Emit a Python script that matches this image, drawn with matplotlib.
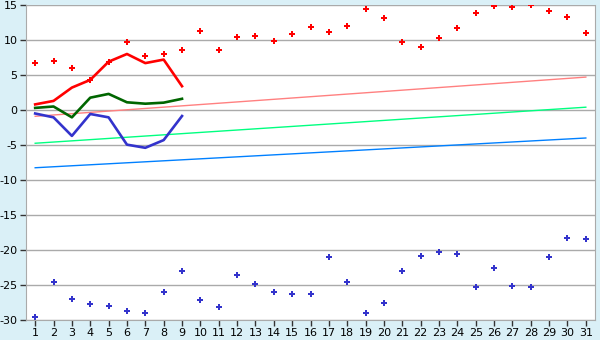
import numpy as np
import matplotlib.pyplot as plt

# days of the month
days = np.arange(1, 32)

# daily max / min points
max_pts = [6.7, 7.0, 6.0, 4.3, 6.9, 9.7, 7.7, 8.0, 8.5, 11.3, 8.5, 10.4, 10.5, 9.8, 10.8, 11.8,
           11.2, 12.0, 14.4, 13.1, 9.7, 9.0, 10.3, 11.7, 13.8, 14.8, 14.7, 15.0, 14.2, 13.3, 11.0]
min_pts = [-29.6, -24.5, -27.0, -27.7, -28.0, -28.7, -29.0, -26.0, -23.0, -27.2, -28.1, -23.6,
           -24.9, -26.0, -26.3, -26.3, -21.0, -24.5, -29.0, -27.6, -23.0, -20.9, -20.3, -20.6,
           -25.3, -22.6, -25.2, -25.3, -21.0, -18.3, -18.5]

# measured lines, first 9 days
line_days = np.arange(1, 10)
max_line = [0.8, 1.3, 3.2, 4.3, 6.9, 8.0, 6.7, 7.2, 3.4]
mean_line = [0.3, 0.5, -1.05, 1.76, 2.3, 1.1, 0.9, 1.05, 1.6]
min_line = [-0.5, -1.05, -3.7, -0.57, -1.05, -4.95, -5.4, -4.3, -0.86]

# long-term normals (start, end)
norm_max = [-0.9, 4.7]
norm_mean = [-4.75, 0.4]
norm_min = [-8.25, -4.0]

fig = plt.figure(figsize=(6, 3.4), dpi=100, facecolor='#daf0f7')
ax = fig.add_axes([26 / 600, 20 / 340, 569 / 600, 315 / 340])
ax.set_facecolor('white')

ends = [days[0], days[-1]]
ax.plot(ends, norm_max, color='#ff8080', lw=1.0)
ax.plot(ends, norm_mean, color='#00ff80', lw=1.0)
ax.plot(ends, norm_min, color='#0080ff', lw=1.0)

ax.plot(line_days, max_line, color='#ff0000', lw=1.9)
ax.plot(line_days, mean_line, color='#006600', lw=1.9)
ax.plot(line_days, min_line, color='#3333cc', lw=1.9)

ax.plot(days, max_pts, 'P', color='#ff0000', ms=5, mew=0, ls='none')
ax.plot(days, min_pts, 'P', color='#3333cc', ms=5, mew=0, ls='none')

ax.set_xlim(0.5, 31.5)
ax.set_ylim(-30, 15)
ax.set_xticks(days)
ax.set_yticks(np.arange(-30, 16, 5))
ax.set_yticklabels([str(v) for v in range(-30, 16, 5)])
ax.grid(axis='y', color='#aaaaaa', lw=1)
ax.set_axisbelow(True)
for s in ax.spines.values():
    s.set_color('#aaaaaa')
ax.spines['top'].set_visible(False)
ax.tick_params(axis='both', colors='black', labelsize=8, length=4, width=1, pad=2)
ax.tick_params(axis='both', color='#333333')

fig.savefig('out.png', dpi=100, facecolor=fig.get_facecolor())
